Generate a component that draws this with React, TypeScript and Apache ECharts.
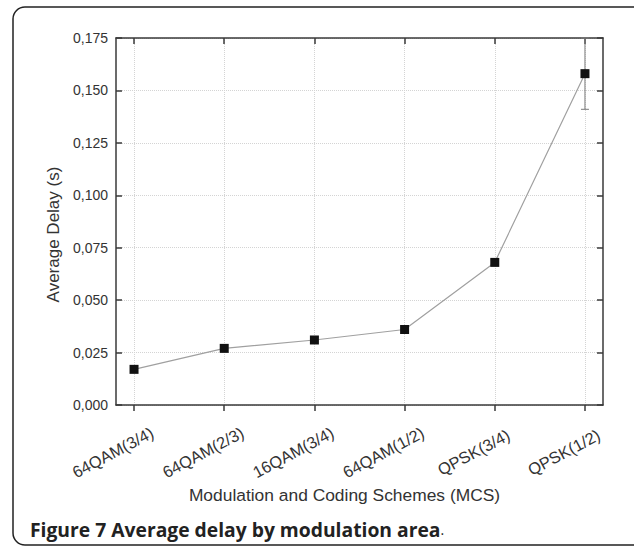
import React, { useEffect, useRef } from 'react';
import * as echarts from 'echarts';

const categories = ['64QAM(3/4)', '64QAM(2/3)', '16QAM(3/4)', '64QAM(1/2)', 'QPSK(3/4)', 'QPSK(1/2)'];
const delays = [0.017, 0.027, 0.031, 0.036, 0.068, 0.158];
const errors = [0, 0, 0, 0, 0.0012, 0.017];
const yMin = 0;
const yMax = 0.175;
const yStep = 0.025;
const xTitle = 'Modulation and Coding Schemes (MCS)';
const yTitle = 'Average Delay (s)';
const caption = 'Figure 7 Average delay by modulation area';

export default function App() {
  const ref = useRef<HTMLDivElement>(null);
  useEffect(() => {
    const chart = echarts.init(ref.current!, null, { renderer: 'svg' });
    const idx = categories.map((_, i) => i);
    const font = '"Liberation Sans", Arial, Helvetica, sans-serif';
    const axisColor = '#3a3a3a';
    chart.setOption({
      animation: false,
      backgroundColor: '#ffffff',
      grid: { left: 116, right: 31, top: 38, bottom: 144, containLabel: false, outerBoundsMode: 'none' },
      xAxis: [
        {
          type: 'value',
          min: -0.2,
          max: 5.2,
          position: 'bottom',
          axisLine: { show: true, onZero: false, lineStyle: { color: axisColor, width: 1.5 } },
          axisTick: { show: true, inside: false, length: 6, customValues: idx, lineStyle: { color: axisColor, width: 1.5 } },
          axisLabel: {
            customValues: idx,
            formatter: (v: number) => categories[Math.round(v)] ?? '',
            rotate: 28,
            align: 'center',
            verticalAlign: 'middle',
            margin: 36,
            padding: [0, 48, 0, 0],
            fontSize: 16.4,
            color: '#333',
            fontFamily: font,
          },
          splitLine: { show: true, lineStyle: { color: '#d4d4d4', type: 'dotted', width: 1 } },
          name: xTitle,
          nameLocation: 'middle',
          nameGap: 74,
          nameTextStyle: { fontSize: 17.4, color: '#333', fontFamily: font, padding: [0, 30, 0, 0] },
        },
        {
          type: 'value',
          min: -0.2,
          max: 5.2,
          position: 'top',
          axisLine: { show: true, onZero: false, lineStyle: { color: axisColor, width: 1.5 } },
          axisTick: { show: true, inside: true, length: 6, customValues: idx, lineStyle: { color: axisColor, width: 1.5 } },
          axisLabel: { show: false },
          splitLine: { show: false },
        },
      ],
      yAxis: [
        {
          type: 'value',
          min: yMin,
          max: yMax,
          interval: yStep,
          position: 'left',
          axisLine: { show: true, onZero: false, lineStyle: { color: axisColor, width: 1.5 } },
          axisTick: { show: true, inside: true, length: 6, lineStyle: { color: axisColor, width: 1.5 } },
          axisLabel: {
            formatter: (v: number) => v.toFixed(3).replace('.', ','),
            fontSize: 14,
            color: '#333',
            margin: 8,
            fontFamily: font,
          },
          splitLine: { show: true, lineStyle: { color: '#d4d4d4', type: 'dotted', width: 1 } },
          name: yTitle,
          nameLocation: 'middle',
          nameRotate: 90,
          nameGap: 52,
          nameTextStyle: { fontSize: 17, color: '#333', fontFamily: font, padding: [0, 26, 0, 0] },
        },
        {
          type: 'value',
          min: yMin,
          max: yMax,
          interval: yStep,
          position: 'right',
          axisLine: { show: true, onZero: false, lineStyle: { color: axisColor, width: 1.5 } },
          axisTick: { show: true, inside: true, length: 6, lineStyle: { color: axisColor, width: 1.5 } },
          axisLabel: { show: false },
          splitLine: { show: false },
        },
      ],
      series: [
        {
          type: 'custom',
          xAxisIndex: 0,
          yAxisIndex: 0,
          z: 2,
          data: delays.map((d, i) => [i, d - errors[i], d + errors[i]]),
          encode: { x: 0, y: [1, 2] },
          renderItem: (_params: any, api: any) => {
            const x = api.value(0);
            const lo = api.value(1);
            const hi = api.value(2);
            if (hi - lo <= 0) return null;
            const p1 = api.coord([x, lo]);
            const p2 = api.coord([x, hi]);
            const w = 4;
            const style = { stroke: '#7a7a7a', lineWidth: 1 };
            return {
              type: 'group',
              children: [
                { type: 'line', shape: { x1: p1[0], y1: p1[1], x2: p2[0], y2: p2[1] }, style },
                { type: 'line', shape: { x1: p1[0] - w, y1: p1[1], x2: p1[0] + w, y2: p1[1] }, style },
                { type: 'line', shape: { x1: p2[0] - w, y1: p2[1], x2: p2[0] + w, y2: p2[1] }, style },
              ],
            };
          },
        },
        {
          type: 'line',
          xAxisIndex: 0,
          yAxisIndex: 0,
          z: 3,
          data: delays.map((d, i) => [i, d]),
          symbol: 'rect',
          symbolSize: 9,
          itemStyle: { color: '#111' },
          lineStyle: { color: '#a0a0a0', width: 1.2 },
        },
      ],
      graphic: [
        {
          type: 'rect',
          shape: { x: 13, y: 7, width: 640, height: 538, r: 12 },
          style: { fill: 'none', stroke: '#222', lineWidth: 1.5 },
          silent: true,
        },
        {
          type: 'text',
          left: 30,
          top: 520,
          style: {
            text: '{b|' + caption + '}{r|.}',
            rich: {
              b: { fontSize: 19.3, fontWeight: 'bold', fontFamily: '"Open Sans", "Noto Sans", sans-serif', fill: '#222' },
              r: { fontSize: 14, fontFamily: '"Open Sans", "Noto Sans", sans-serif', fill: '#222' },
            },
          },
        },
      ],
    });
    return () => chart.dispose();
  }, []);
  return <div ref={ref} style={{ position: 'absolute', left: 0, top: 0, width: 634, height: 549 }} />;
}
